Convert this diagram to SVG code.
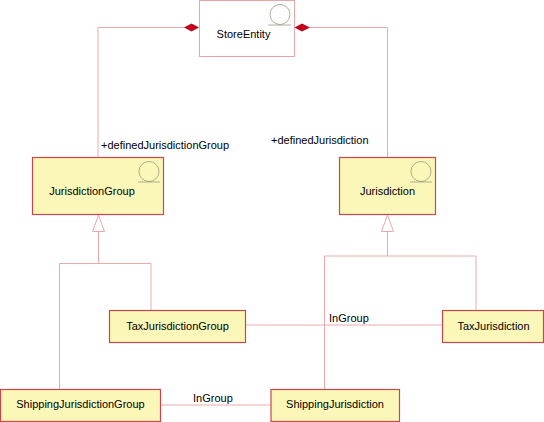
<svg xmlns="http://www.w3.org/2000/svg" width="544" height="422" viewBox="0 0 544 422">
<defs>
<style>
.box{fill:#fbf7b9;stroke:#c9474c;stroke-width:1.2}
.boxw{fill:#ffffff;stroke:#e6a6a6;stroke-width:1}
.ln{fill:none;stroke:#eaaaaa;stroke-width:1}
.tri{fill:#ffffff;stroke:#eaaaaa;stroke-width:1}
.dia{fill:#c0001a;stroke:none}
.ic{fill:none;stroke:#9a9a80;stroke-width:0.8}
text{font-family:"Liberation Sans",Arial,sans-serif;font-size:11px;fill:#000}
.c{text-anchor:middle}
</style>
</defs>
<g id="connectors">
<polyline class="ln" points="184,27.5 98,27.5 98,157"/>
<polygon class="dia" points="184,27.5 191.5,23.5 199,27.5 191.5,31.5"/>
<polyline class="ln" points="310,27.5 387.5,27.5 387.5,157"/>
<polygon class="dia" points="294.5,27.5 302,23.5 310,27.5 302,31.5"/>
<text x="101" y="149">+definedJurisdictionGroup</text>
<text x="271" y="144">+definedJurisdiction</text>
<polygon class="tri" points="98.5,215 92.5,231.5 104.5,231.5"/>
<polyline class="ln" points="98.5,231.5 98.5,263.5"/>
<polyline class="ln" points="59.5,389 59.5,263.5 151,263.5 151,310"/>
<polygon class="tri" points="387.5,215 381.5,231.5 393.5,231.5"/>
<polyline class="ln" points="387.5,231.5 387.5,256"/>
<polyline class="ln" points="324.5,389 324.5,256 476,256 476,310"/>
<line class="ln" x1="245" y1="325" x2="442" y2="325"/>
<text x="329" y="322">InGroup</text>
<line class="ln" x1="160" y1="405" x2="271" y2="405"/>
<text x="193" y="402">InGroup</text>
</g>
<g id="StoreEntity">
<rect class="boxw" x="199.5" y="0.5" width="95" height="56"/>
<circle class="ic" cx="280" cy="14.5" r="10"/>
<line class="ic" x1="268" y1="25" x2="291" y2="25"/>
<text class="c" x="243.5" y="38">StoreEntity</text>
</g>
<g id="JurisdictionGroup">
<rect class="box" x="32.5" y="157.5" width="131" height="57"/>
<circle class="ic" cx="149" cy="171.5" r="10"/>
<line class="ic" x1="138" y1="182" x2="160" y2="182"/>
<text class="c" x="92" y="195">JurisdictionGroup</text>
</g>
<g id="Jurisdiction">
<rect class="box" x="339.5" y="157.5" width="96" height="57"/>
<circle class="ic" cx="421" cy="171.5" r="10"/>
<line class="ic" x1="410" y1="182" x2="432" y2="182"/>
<text class="c" x="387.5" y="195">Jurisdiction</text>
</g>
<g id="TaxJurisdictionGroup">
<rect class="box" x="109.5" y="310.5" width="136" height="32"/>
<text class="c" x="177.5" y="330">TaxJurisdictionGroup</text>
</g>
<g id="TaxJurisdiction">
<rect class="box" x="442.5" y="310.5" width="101" height="32"/>
<text class="c" x="493.5" y="330">TaxJurisdiction</text>
</g>
<g id="ShippingJurisdictionGroup">
<rect class="box" x="0.5" y="389.5" width="160" height="32"/>
<text class="c" x="80.5" y="408">ShippingJurisdictionGroup</text>
</g>
<g id="ShippingJurisdiction">
<rect class="box" x="271" y="389.5" width="128.5" height="32"/>
<text class="c" x="335" y="408">ShippingJurisdiction</text>
</g>
</svg>
